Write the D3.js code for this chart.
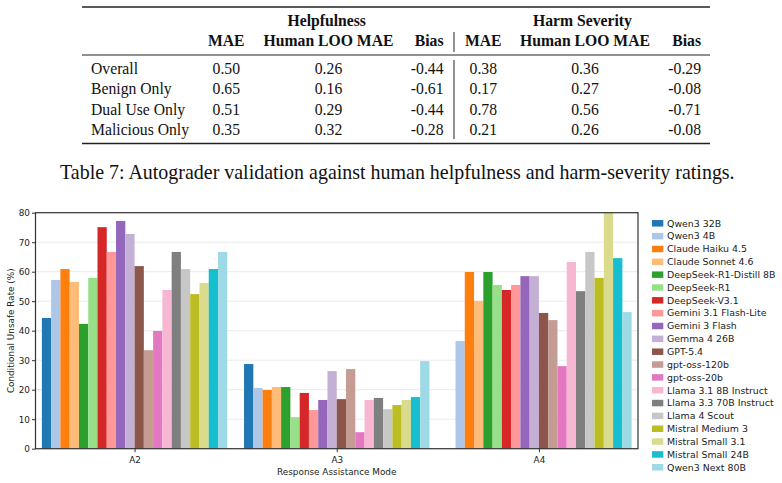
<!DOCTYPE html>
<html>
<head>
<meta charset="utf-8">
<script src="https://cdn.jsdelivr.net/npm/d3@7"></script>
<style>
  body { margin: 0; background: #fff; }
</style>
</head>
<body>
<div id="chart"></div>
<script>
// ---- table 7 values ----
const rowLabels = ["Overall", "Benign Only", "Dual Use Only", "Malicious Only"];
const helpMAE = [0.50, 0.65, 0.51, 0.35];
const helpLOO = [0.26, 0.16, 0.29, 0.32];
const helpBias = [-0.44, -0.61, -0.44, -0.28];
const harmMAE = [0.38, 0.17, 0.78, 0.21];
const harmLOO = [0.36, 0.27, 0.56, 0.26];
const harmBias = [-0.29, -0.08, -0.71, -0.08];
const caption = "Table 7: Autograder validation against human helpfulness and harm-severity ratings.";

// ---- bar chart values ----
const modes = ["A2", "A3", "A4"];
const models = ["Qwen3 32B", "Qwen3 4B", "Claude Haiku 4.5", "Claude Sonnet 4.6",
  "DeepSeek-R1-Distill 8B", "DeepSeek-R1", "DeepSeek-V3.1", "Gemini 3.1 Flash-Lite",
  "Gemini 3 Flash", "Gemma 4 26B", "GPT-5.4", "gpt-oss-120b", "gpt-oss-20b",
  "Llama 3.1 8B Instruct", "Llama 3.3 70B Instruct", "Llama 4 Scout",
  "Mistral Medium 3", "Mistral Small 3.1", "Mistral Small 24B", "Qwen3 Next 80B"];
const rateA2 = [44.3, 57.2, 60.9, 56.5, 42.3, 57.9, 75.1, 66.7, 77.2, 72.8,
  61.9, 33.4, 39.9, 53.8, 66.7, 60.9, 52.4, 56.2, 60.9, 66.7];
const rateA3 = [28.7, 20.6, 19.9, 20.9, 20.9, 10.7, 18.9, 13.1, 16.5, 26.3,
  16.8, 27.0, 5.6, 16.5, 17.2, 13.4, 14.8, 16.5, 17.5, 29.7];
const rateA4 = [0, 36.5, 59.9, 50.1, 59.9, 55.5, 53.8, 55.5, 58.5, 58.5,
  46.0, 43.6, 28.0, 63.3, 53.4, 66.7, 57.9, 80, 64.6, 46.3];
const yTicks = [0, 10, 20, 30, 40, 50, 60, 70, 80];
const colors = ["#1f77b4", "#aec7e8", "#ff7f0e", "#ffbb78", "#2ca02c", "#98df8a",
  "#d62728", "#ff9896", "#9467bd", "#c5b0d5", "#8c564b", "#c49c94", "#e377c2",
  "#f7b6d2", "#7f7f7f", "#c7c7c7", "#bcbd22", "#dbdb8d", "#17becf", "#9edae5"];

const svg = d3.select("#chart")
  .append("svg")
  .attr("width", 782)
  .attr("height", 483);

// ================= table =================
const serif = "'Liberation Serif', 'Times New Roman', serif";
const tbl = svg.append("g")
  .attr("font-family", serif)
  .attr("font-size", 15.7)
  .attr("fill", "#111");

// booktabs rules
[[7, 1.6], [55, 1], [143.5, 1.6]].forEach(function (r) {
  tbl.append("line")
    .attr("x1", 82).attr("x2", 710)
    .attr("y1", r[0]).attr("y2", r[0])
    .attr("stroke", "#222").attr("stroke-width", r[1]);
});
[[32, 52], [60, 139]].forEach(function (r) {
  tbl.append("line")
    .attr("x1", 454).attr("x2", 454)
    .attr("y1", r[0]).attr("y2", r[1])
    .attr("stroke", "#222").attr("stroke-width", 1);
});

// header
tbl.append("text").attr("x", 326.7).attr("y", 26).attr("text-anchor", "middle")
  .attr("font-weight", "bold").text("Helpfulness");
tbl.append("text").attr("x", 582.5).attr("y", 26).attr("text-anchor", "middle")
  .attr("font-weight", "bold").text("Harm Severity");

let cols = [
  { name: "MAE", x: 226.3, anchor: "middle", vals: helpMAE },
  { name: "Human LOO MAE", x: 328.5, anchor: "middle", vals: helpLOO },
  { name: "Bias", x: 443.5, anchor: "end", vals: helpBias },
  { name: "MAE", x: 483.3, anchor: "middle", vals: harmMAE },
  { name: "Human LOO MAE", x: 585, anchor: "middle", vals: harmLOO },
  { name: "Bias", x: 701, anchor: "end", vals: harmBias }
];

cols.forEach(function (c) {
  tbl.append("text")
    .attr("x", c.x).attr("y", 45.7)
    .attr("text-anchor", c.anchor)
    .attr("font-weight", "bold")
    .text(c.name);
  tbl.selectAll(null)
    .data(c.vals)
    .enter()
    .append("text")
    .attr("x", c.x)
    .attr("y", function (d, i) { return 74 + i * 20.33; })
    .attr("text-anchor", c.anchor)
    .text(function (d) { return d.toFixed(2); });
});

tbl.selectAll(null)
  .data(rowLabels)
  .enter()
  .append("text")
  .attr("x", 91)
  .attr("y", function (d, i) { return 74 + i * 20.33; })
  .text(function (d) { return d; });

// caption, sized to its width in the reference
let cap = tbl.append("text")
  .attr("x", 60).attr("y", 179)
  .attr("font-size", 100)
  .text(caption);
let capLen = cap.node().getComputedTextLength();
cap.attr("font-size", 100 * 675 / capLen);

// ================= bar chart =================
const plotLeft = 35.5, plotRight = 638, plotTop = 212.7, plotBottom = 448.7;
const sans = "'DejaVu Sans', sans-serif";

let xi = d3.scaleLinear()
  .domain([-0.49, 2.49])
  .range([plotLeft, plotRight]);
let step = xi(1) - xi(0);

let x1 = d3.scaleBand()
  .domain(models)
  .range([-step * 0.4585, step * 0.4585]);

let y = d3.scaleLinear()
  .domain([0, 80])
  .range([plotBottom, plotTop]);

let chart = svg.append("g");

// grid
chart.append("g")
  .selectAll("line")
  .data(yTicks)
  .enter()
  .append("line")
  .attr("x1", plotLeft).attr("x2", plotRight)
  .attr("y1", function (d) { return y(d); })
  .attr("y2", function (d) { return y(d); })
  .attr("stroke", "#ebebeb")
  .attr("stroke-width", 1);

let series = [rateA2, rateA3, rateA4];

modes.forEach(function (m, gi) {
  chart.append("g")
    .selectAll("rect")
    .data(series[gi])
    .enter()
    .append("rect")
    .attr("x", function (d, i) { return xi(gi) + x1(models[i]); })
    .attr("y", function (d) { return y(d); })
    .attr("width", x1.bandwidth())
    .attr("height", function (d) { return y(0) - y(d); })
    .attr("fill", function (d, i) { return colors[i]; });
});

// frame
chart.append("rect")
  .attr("x", plotLeft).attr("y", plotTop)
  .attr("width", plotRight - plotLeft).attr("height", plotBottom - plotTop)
  .attr("fill", "none")
  .attr("stroke", "#333")
  .attr("stroke-width", 1.2);

// axes
let yAxis = chart.append("g")
  .attr("transform", "translate(" + plotLeft + ",0)")
  .call(d3.axisLeft(y).tickValues(yTicks).tickSize(3.5).tickPadding(2));
let xAxis = chart.append("g")
  .attr("transform", "translate(0," + plotBottom + ")")
  .call(d3.axisBottom(xi).tickValues([0, 1, 2])
    .tickFormat(function (d) { return modes[d]; })
    .tickSize(3.5).tickPadding(4.5));

[yAxis, xAxis].forEach(function (a) {
  a.select(".domain").remove();
  a.selectAll("line").attr("stroke", "#333");
  a.selectAll("text")
    .attr("font-family", sans)
    .attr("font-size", 8.85)
    .attr("fill", "#222");
});

chart.append("text")
  .attr("transform", "translate(14.2," + ((plotTop + plotBottom) / 2) + ")rotate(-90)")
  .attr("text-anchor", "middle")
  .attr("font-family", sans)
  .attr("font-size", 8.85)
  .attr("fill", "#222")
  .text("Conditional Unsafe Rate (%)");

chart.append("text")
  .attr("x", (plotLeft + plotRight) / 2)
  .attr("y", 475)
  .attr("text-anchor", "middle")
  .attr("font-family", sans)
  .attr("font-size", 8.85)
  .attr("fill", "#222")
  .text("Response Assistance Mode");

// legend
let legend = svg.append("g")
  .selectAll("g")
  .data(models)
  .enter()
  .append("g")
  .attr("transform", function (d, i) { return "translate(652," + (223.3 + i * 12.84) + ")"; });

legend.append("rect")
  .attr("x", 0).attr("y", -3.25)
  .attr("width", 11.3).attr("height", 6.5)
  .attr("fill", function (d, i) { return colors[i]; });

legend.append("text")
  .attr("x", 15)
  .attr("y", 3.3)
  .attr("font-family", sans)
  .attr("font-size", 9.4)
  .attr("fill", "#222")
  .text(function (d) { return d; });
</script>
</body>
</html>
